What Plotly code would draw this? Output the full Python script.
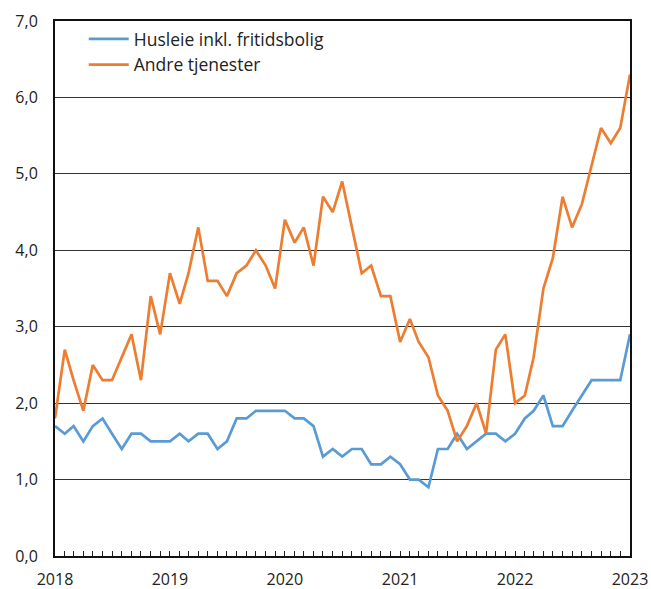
import plotly.graph_objects as go
import pandas as pd

months = pd.date_range("2018-01-01", "2023-01-01", freq="MS")

husleie = [1.7, 1.6, 1.7, 1.5, 1.7, 1.8, 1.6, 1.4, 1.6, 1.6, 1.5, 1.5,
           1.5, 1.6, 1.5, 1.6, 1.6, 1.4, 1.5, 1.8, 1.8, 1.9, 1.9, 1.9,
           1.9, 1.8, 1.8, 1.7, 1.3, 1.4, 1.3, 1.4, 1.4, 1.2, 1.2, 1.3,
           1.2, 1.0, 1.0, 0.9, 1.4, 1.4, 1.6, 1.4, 1.5, 1.6, 1.6, 1.5,
           1.6, 1.8, 1.9, 2.1, 1.7, 1.7, 1.9, 2.1, 2.3, 2.3, 2.3, 2.3,
           2.9]

andre = [1.8, 2.7, 2.3, 1.9, 2.5, 2.3, 2.3, 2.6, 2.9, 2.3, 3.4, 2.9,
         3.7, 3.3, 3.7, 4.3, 3.6, 3.6, 3.4, 3.7, 3.8, 4.0, 3.8, 3.5,
         4.4, 4.1, 4.3, 3.8, 4.7, 4.5, 4.9, 4.3, 3.7, 3.8, 3.4, 3.4,
         2.8, 3.1, 2.8, 2.6, 2.1, 1.9, 1.5, 1.7, 2.0, 1.6, 2.7, 2.9,
         2.0, 2.1, 2.6, 3.5, 3.9, 4.7, 4.3, 4.6, 5.1, 5.6, 5.4, 5.6,
         6.3]

series_names = ["Husleie inkl. fritidsbolig", "Andre tjenester"]
colors = ["#5B9BD5", "#ED7D31"]
year_ticks = pd.date_range("2018-01-01", "2023-01-01", freq="YS")
year_labels = [str(d.year) for d in year_ticks]
y_ticks = [0, 1, 2, 3, 4, 5, 6, 7]

fig = go.Figure()
for name, vals, col in zip(series_names, [husleie, andre], colors):
    fig.add_trace(go.Scatter(x=months, y=vals, mode="lines", name=name,
                             line=dict(color=col, width=2.7)))

fig.update_layout(
    width=651, height=589,
    margin=dict(l=55, r=21, t=21, b=33),
    paper_bgcolor="white", plot_bgcolor="white",
    separators=", ",
    font=dict(family="Open Sans", size=16, color="#222222"),
    showlegend=True,
    legend=dict(x=0.05, y=1.0, xanchor="left", yanchor="top",
                bgcolor="rgba(0,0,0,0)", font=dict(size=17.5),
                tracegroupgap=0, itemwidth=40),
)

fig.update_xaxes(
    range=[months[0], months[-1]],
    tickvals=list(year_ticks), ticktext=year_labels,
    ticks="inside", ticklen=5, tickcolor="#222222",
    minor=dict(dtick="M1", ticks="inside", ticklen=5, tickcolor="#222222"),
    showgrid=False,
    showline=True, linecolor="#111111", linewidth=2, mirror=True,
    ticklabelstandoff=8, automargin=False,
)
fig.update_yaxes(
    range=[0, 7], tickvals=y_ticks, tickformat=".1f",
    showgrid=True, gridcolor="#333333", gridwidth=1,
    showline=True, linecolor="#111111", linewidth=2, mirror=True,
    ticks="", zeroline=False, ticklabelstandoff=12, automargin=False,
)

fig.write_html(
    "out.html",
    config={"displayModeBar": False},
    post_script="document.body.style.margin='0';document.body.style.overflow='hidden';",
)
